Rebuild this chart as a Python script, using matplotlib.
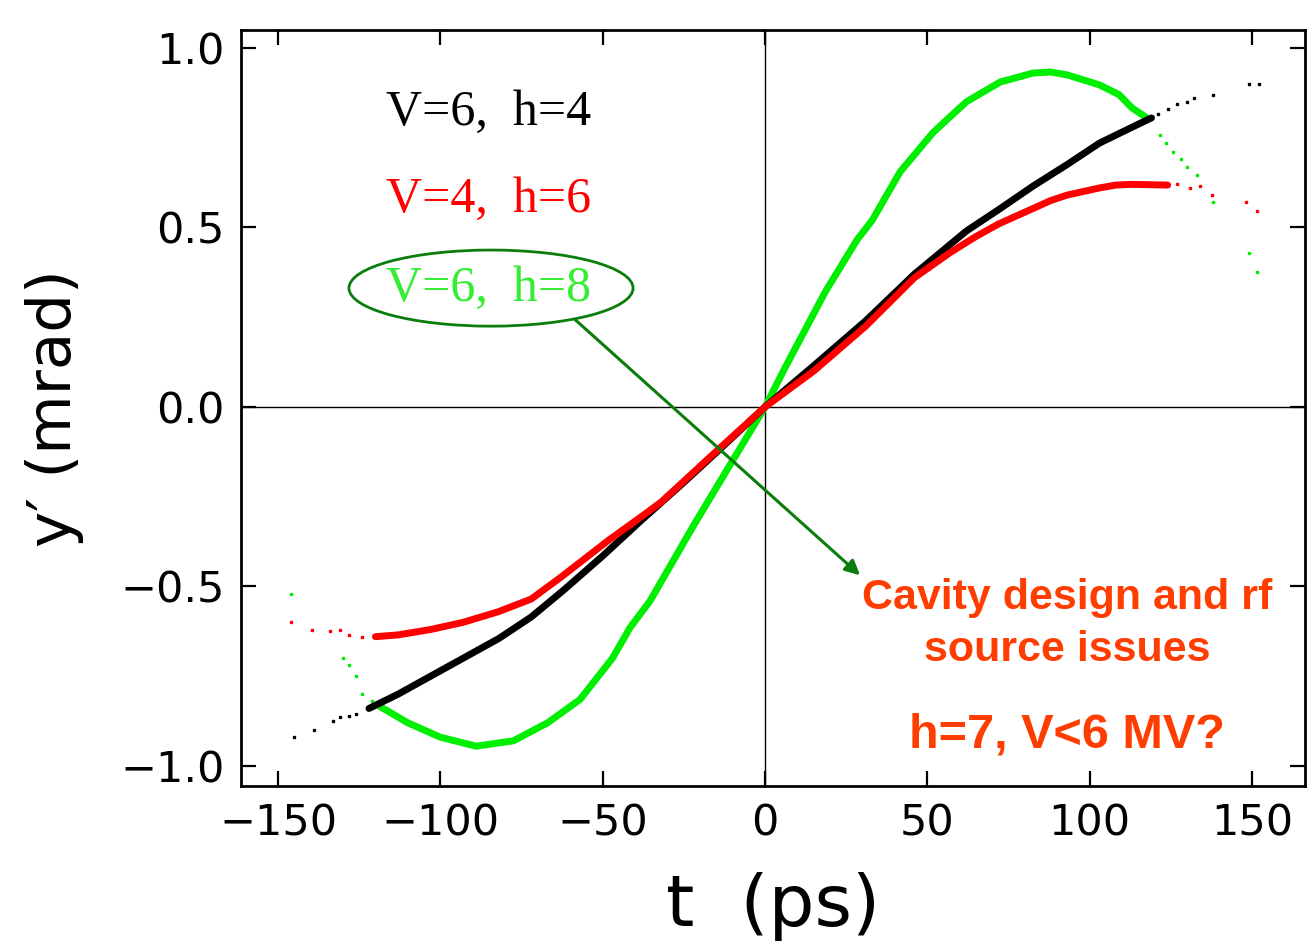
import matplotlib
matplotlib.use('Agg')
import matplotlib.pyplot as plt
from matplotlib.patches import Ellipse

# V=6, h=4 (black): dense core and sparse tails
black_t = [-122, -113, -103, -93, -82, -72, -62, -50, -38, -25, -13, 0,
           15, 31, 46, 62, 72, 82.5, 93, 103, 115.5, 119]
black_y = [-0.84, -0.80, -0.75, -0.70, -0.645, -0.585, -0.51, -0.415, -0.315,
           -0.21, -0.11, 0.0, 0.115, 0.24, 0.37, 0.49, 0.55, 0.615, 0.675,
           0.735, 0.79, 0.805]
black_tail_t = [-145, -139, -133, -131, -128, -126, 121, 124, 127, 130, 132, 138, 149, 152]
black_tail_y = [-0.92, -0.90, -0.875, -0.865, -0.86, -0.855, 0.815, 0.83, 0.845,
                0.85, 0.86, 0.87, 0.90, 0.90]

# V=4, h=6 (red)
red_t = [-120, -113, -103, -93, -82, -72, -63, -48, -38, -32, -17, 0,
         15, 31, 46, 57, 65, 72, 88, 93, 103, 108, 113, 124]
red_y = [-0.64, -0.635, -0.62, -0.60, -0.57, -0.535, -0.475, -0.37, -0.305,
         -0.265, -0.14, 0.0, 0.10, 0.225, 0.36, 0.43, 0.475, 0.51, 0.575,
         0.59, 0.61, 0.618, 0.62, 0.618]
red_tail_t = [-146, -139.5, -134, -131, -128, -124, 127, 131, 134, 137.7, 148, 151.5]
red_tail_y = [-0.60, -0.62, -0.625, -0.62, -0.635, -0.64, 0.62, 0.61, 0.615,
              0.59, 0.57, 0.546]

# V=6, h=8 (green)
green_t = [-118.5, -110, -100, -89, -77.5, -67, -57, -47, -41.6, -35.4, -22,
           -11.7, 0, 6.2, 18.5, 28.3, 33, 41.6, 51.8, 62, 72.4, 82.5, 87.8,
           93, 103, 109, 113, 117.6]
green_y = [-0.835, -0.88, -0.92, -0.945, -0.93, -0.88, -0.815, -0.70, -0.615,
           -0.54, -0.33, -0.175, 0.0, 0.11, 0.32, 0.465, 0.52, 0.655, 0.765,
           0.85, 0.905, 0.93, 0.933, 0.925, 0.897, 0.87, 0.833, 0.805]
green_tail_t = [-146, -130, -128, -126, -124, -121, 121.6, 123.5, 125.7, 128,
                130, 133, 138, 149, 151.5]
green_tail_y = [-0.52, -0.70, -0.72, -0.75, -0.80, -0.82, 0.758, 0.735, 0.71,
                0.69, 0.668, 0.646, 0.57, 0.43, 0.376]

labels = ['V=6,  h=4', 'V=4,  h=6', 'V=6,  h=8']
label_colors = ['black', '#ff0000', '#33ee33']
xticks = [-150, -100, -50, 0, 50, 100, 150]
yticks = [-1.0, -0.5, 0.0, 0.5, 1.0]

fig = plt.figure(figsize=(13.07, 9.46), dpi=100)
ax = fig.add_axes([0.1844, 0.1691, 0.8141, 0.7992])

ax.axhline(0, color='black', lw=1.0, zorder=1)
ax.axvline(0, color='black', lw=1.0, zorder=1)

line_kw = dict(lw=5, solid_capstyle='round', solid_joinstyle='round')
ax.plot(green_t, green_y, color='#00ee00', zorder=2, **line_kw)
ax.plot(black_t, black_y, color='black', zorder=3, **line_kw)
ax.plot(red_t, red_y, color='#ff0000', zorder=4, **line_kw)
ax.plot(black_tail_t, black_tail_y, 's', color='black', ms=2, zorder=3)
ax.plot(red_tail_t, red_tail_y, 's', color='#ff0000', ms=2, zorder=4)
ax.plot(green_tail_t, green_tail_y, 's', color='#00ee00', ms=2, zorder=2)

ax.set_xlim(-161.4, 166.3)
ax.set_ylim(-1.056, 1.050)
ax.set_xticks(xticks)
ax.set_yticks(yticks)
ax.set_xticklabels(['\u2212150', '\u2212100', '\u221250', '0', '50', '100', '150'])
ax.set_yticklabels(['\u22121.0', '\u22120.5', '0.0', '0.5', '1.0'])
ax.tick_params(direction='in', length=11, width=1.6, top=True, right=True,
               labelsize=31, pad=12)
for s in ax.spines.values():
    s.set_linewidth(2)

ax.set_xlabel('t  (ps)', fontsize=52, labelpad=20)
ax.set_ylabel('y\u2032 (mrad)', fontsize=44, labelpad=26)

# legend-like annotations
for lab, col, yy in zip(labels, label_colors, [0.82, 0.577, 0.33]):
    ax.text(-85.3, yy, lab, color=col, fontsize=36, family='Liberation Serif',
            ha='center', va='center')

ax.add_patch(Ellipse((-84.4, 0.331), 87.5, 0.212, fill=False,
                     edgecolor='#0a7d0a', lw=2, zorder=6))
ax.annotate('', xy=(29.9, -0.474), xytext=(-59.1, 0.248),
            arrowprops=dict(arrowstyle='-|>', color='#0a7d0a', lw=2.2,
                            mutation_scale=22), zorder=6)

note_color = '#ff3d00'
ax.text(93, -0.532, 'Cavity design and rf', color=note_color, fontsize=31,
        fontweight='bold', family='Liberation Sans', ha='center', va='center')
ax.text(93, -0.677, 'source issues', color=note_color, fontsize=31,
        fontweight='bold', family='Liberation Sans', ha='center', va='center')
ax.text(93, -0.914, 'h=7, V<6 MV?', color=note_color, fontsize=35,
        fontweight='bold', family='Liberation Sans', ha='center', va='center')

fig.savefig('out.png', dpi=100)
